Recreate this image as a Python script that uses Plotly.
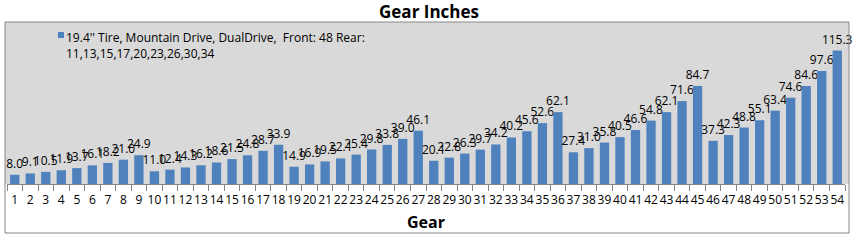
import plotly.graph_objects as go

gears = [str(i) for i in range(1, 55)]
gear_inches = [
    8.0, 9.1, 10.5, 11.9, 13.7, 16.1, 18.2, 21.0, 24.9,
    11.0, 12.4, 14.3, 16.2, 18.6, 21.5, 24.8, 28.7, 33.9,
    14.9, 16.9, 19.5, 22.1, 25.4, 29.8, 33.8, 39.0, 46.1,
    20.1, 22.8, 26.3, 29.7, 34.2, 40.2, 45.6, 52.6, 62.1,
    27.4, 31.0, 35.8, 40.5, 46.6, 54.8, 62.1, 71.6, 84.7,
    37.3, 42.3, 48.8, 55.1, 63.4, 74.6, 84.6, 97.6, 115.3,
]
series_name = "19.4'' Tire, Mountain Drive, DualDrive,  Front: 48 Rear:<br>11,13,15,17,20,23,26,30,34"
title_text = "Gear Inches"
x_title = "Gear"

FONT = "Open Sans"
BAR_COLOR = "#4f81bd"

fig = go.Figure()
fig.add_trace(go.Bar(
    x=gears, y=gear_inches, name=series_name,
    marker=dict(color=BAR_COLOR, line=dict(width=0)),
    text=[f"{v:.1f}" for v in gear_inches],
    textposition="outside", constraintext="none", cliponaxis=False,
    textfont=dict(family=FONT, size=12, color="#000000"),
    showlegend=False,
))

L, R, T, B = 7, 13, 22, 57
W, H = 858, 241
pw = W - L - R
ph = H - T - B

def px_x(p):
    return (p - L) / pw

def px_y(p):
    return (H - B - p) / ph

fig.update_layout(
    width=W, height=H,
    margin=dict(l=L, r=R, t=T, b=B),
    paper_bgcolor="white",
    plot_bgcolor="rgba(0,0,0,0)",
    bargap=0.4,
    font=dict(family=FONT, size=12, color="#000000"),
    title=dict(text="<b>" + title_text + "</b>", x=0.5, xanchor="center",
               y=1 - 12 / H, yanchor="middle",
               font=dict(family=FONT, size=17, color="#000000")),
    showlegend=False,
    xaxis=dict(type="category", showgrid=False, showline=True,
               linecolor="#868686", linewidth=1,
               ticks="outside", ticklen=6, tickcolor="#868686",
               tickson="boundaries", tickangle=0, ticklabelstandoff=5,
               tickfont=dict(family=FONT, size=12, color="#000000"),
               title=dict(text="<b>" + x_title + "</b>", standoff=9,
                          font=dict(family=FONT, size=16, color="#000000"))),
    yaxis=dict(range=[0, 140], visible=False, showgrid=False),
    shapes=[
        dict(type="rect", xref="paper", yref="paper",
             x0=px_x(5), x1=px_x(849), y0=px_y(184), y1=px_y(22),
             fillcolor="#d9d9d9", line=dict(width=0), layer="below"),
        dict(type="rect", xref="paper", yref="paper",
             x0=px_x(5), x1=px_x(849), y0=px_y(233), y1=px_y(22),
             fillcolor="rgba(0,0,0,0)", line=dict(color="#868686", width=1),
             layer="above"),
        dict(type="rect", xref="paper", yref="paper",
             x0=px_x(58), x1=px_x(64), y0=px_y(38), y1=px_y(32),
             fillcolor=BAR_COLOR, line=dict(width=0), layer="above"),
    ],
    annotations=[
        dict(text=series_name, xref="paper", yref="paper",
             x=px_x(64), y=px_y(27), xanchor="left", yanchor="top",
             align="left", showarrow=False,
             font=dict(family=FONT, size=12, color="#000000")),
    ],
)

fig.write_html("out.html")
